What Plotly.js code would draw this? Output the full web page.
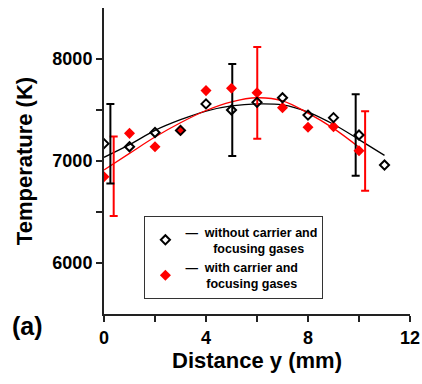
<!DOCTYPE html>
<html>
<head>
<meta charset="utf-8">
<script src="https://cdn.plot.ly/plotly-3.0.1.min.js"></script>
<style>html,body{margin:0;padding:0;background:#fff;}#chart{width:422px;height:384px;}</style>
</head>
<body>
<div id="chart"></div>
<script>
// Measured points
var distance = [0, 1, 2, 3, 4, 5, 6, 7, 8, 9, 10, 11];
var tempWithout = [7170, 7140, 7280, 7300, 7560, 7500, 7575, 7620, 7450, 7425, 7255, 6960];
var distanceWith = [0, 1, 2, 3, 4, 5, 6, 7, 8, 9, 10];
var tempWith = [6846, 7271, 7140, 7300, 7690, 7713, 7670, 7523, 7330, 7337, 7100];

// Error bars (drawn slightly offset as in the figure)
var errWithoutX = [0.25, 5.03, 9.87];
var errWithoutY = [7170, 7500, 7255];
var errWithoutVal = [390, 450, 400];
var errWithX = [0.38, 6.01, 10.24];
var errWithY = [6850, 7668, 7098];
var errWithVal = [390, 450, 390];

// Fitted curves
var fitWithoutX = [0, 1, 2, 3, 4, 5, 6, 7, 8, 9, 10, 11];
var fitWithoutY = [7036, 7160, 7300, 7405, 7490, 7540, 7560, 7550, 7480, 7360, 7210, 7055];
var fitWithX = [0, 1, 2, 3, 4, 5, 6, 7, 8, 9, 10];
var fitWithY = [6912, 7075, 7235, 7375, 7495, 7580, 7620, 7590, 7470, 7320, 7135];

var xTickVals = [0, 2, 4, 6, 8, 10, 12];
var xTickText = ['0', '', '4', '', '8', '', '12'];
var yTickVals = [6000, 6500, 7000, 7500, 8000];
var yTickText = ['6000', '', '7000', '', '8000'];

var nameWithout = '\u2014  without carrier and<br>\u00a0\u00a0\u00a0\u00a0\u00a0\u00a0\u00a0\u00a0focusing gases';
var nameWith = '\u2014  with carrier and<br>\u00a0\u00a0\u00a0\u00a0\u00a0\u00a0focusing gases';

var F = 'Liberation Sans, Arial, sans-serif';

var traces = [
  {x: fitWithoutX, y: fitWithoutY, mode: 'lines', line: {color: '#000', width: 1.3, shape: 'spline'}, showlegend: false, hoverinfo: 'skip'},
  {x: fitWithX, y: fitWithY, mode: 'lines', line: {color: '#ff0000', width: 1.3, shape: 'spline'}, showlegend: false, hoverinfo: 'skip'},
  {x: errWithX, y: errWithY, mode: 'markers', marker: {opacity: 0, size: 1}, showlegend: false,
   error_y: {type: 'data', array: errWithVal, visible: true, color: '#ff0000', thickness: 2, width: 4}},
  {x: errWithoutX, y: errWithoutY, mode: 'markers', marker: {opacity: 0, size: 1}, showlegend: false,
   error_y: {type: 'data', array: errWithoutVal, visible: true, color: '#000', thickness: 2, width: 4}},
  {x: distanceWith, y: tempWith, mode: 'markers', name: nameWith, legendrank: 2,
   marker: {symbol: 'diamond', size: 8.5, color: '#ff0000', line: {width: 0}}},
  {x: distance, y: tempWithout, mode: 'markers', name: nameWithout, legendrank: 1,
   marker: {symbol: 'diamond-open', size: 7, color: '#000', line: {width: 2, color: '#000'}}}
];

var layout = {
  width: 422, height: 384,
  margin: {l: 104, r: 12, t: 8, b: 70},
  paper_bgcolor: '#fff', plot_bgcolor: '#fff',
  font: {family: F, color: '#000'},
  xaxis: {
    range: [0, 12], tickvals: xTickVals, ticktext: xTickText,
    ticks: 'outside', ticklen: 6, tickwidth: 2, tickcolor: '#222',
    showline: true, linewidth: 2, linecolor: '#222', showgrid: false, zeroline: false,
    tickfont: {family: F, size: 18, weight: 'bold'},
    title: {text: 'Distance y (mm)', font: {family: F, size: 22, weight: 'bold'}, standoff: 4}
  },
  yaxis: {
    range: [5500, 8500], tickvals: yTickVals, ticktext: yTickText,
    ticks: 'outside', ticklen: 6, tickwidth: 2, tickcolor: '#222',
    showline: true, linewidth: 2, linecolor: '#222', showgrid: false, zeroline: false,
    tickfont: {family: F, size: 18, weight: 'bold'},
    title: {text: 'Temperature (K)', font: {family: F, size: 22, weight: 'bold'}, standoff: 14}
  },
  legend: {
    x: 0.132, y: 0.32, xanchor: 'left', yanchor: 'top',
    bordercolor: '#333', borderwidth: 1, bgcolor: '#fff',
    font: {family: F, size: 12.5, weight: 'bold', color: '#000'},
    tracegroupgap: 2
  },
  annotations: [
    {text: '(a)', xref: 'paper', yref: 'paper', x: -0.25, y: -0.04, xanchor: 'center', yanchor: 'middle',
     showarrow: false, font: {family: F, size: 25, weight: 'bold'}}
  ]
};

Plotly.newPlot('chart', traces, layout, {displayModeBar: false, staticPlot: true});
</script>
</body>
</html>
